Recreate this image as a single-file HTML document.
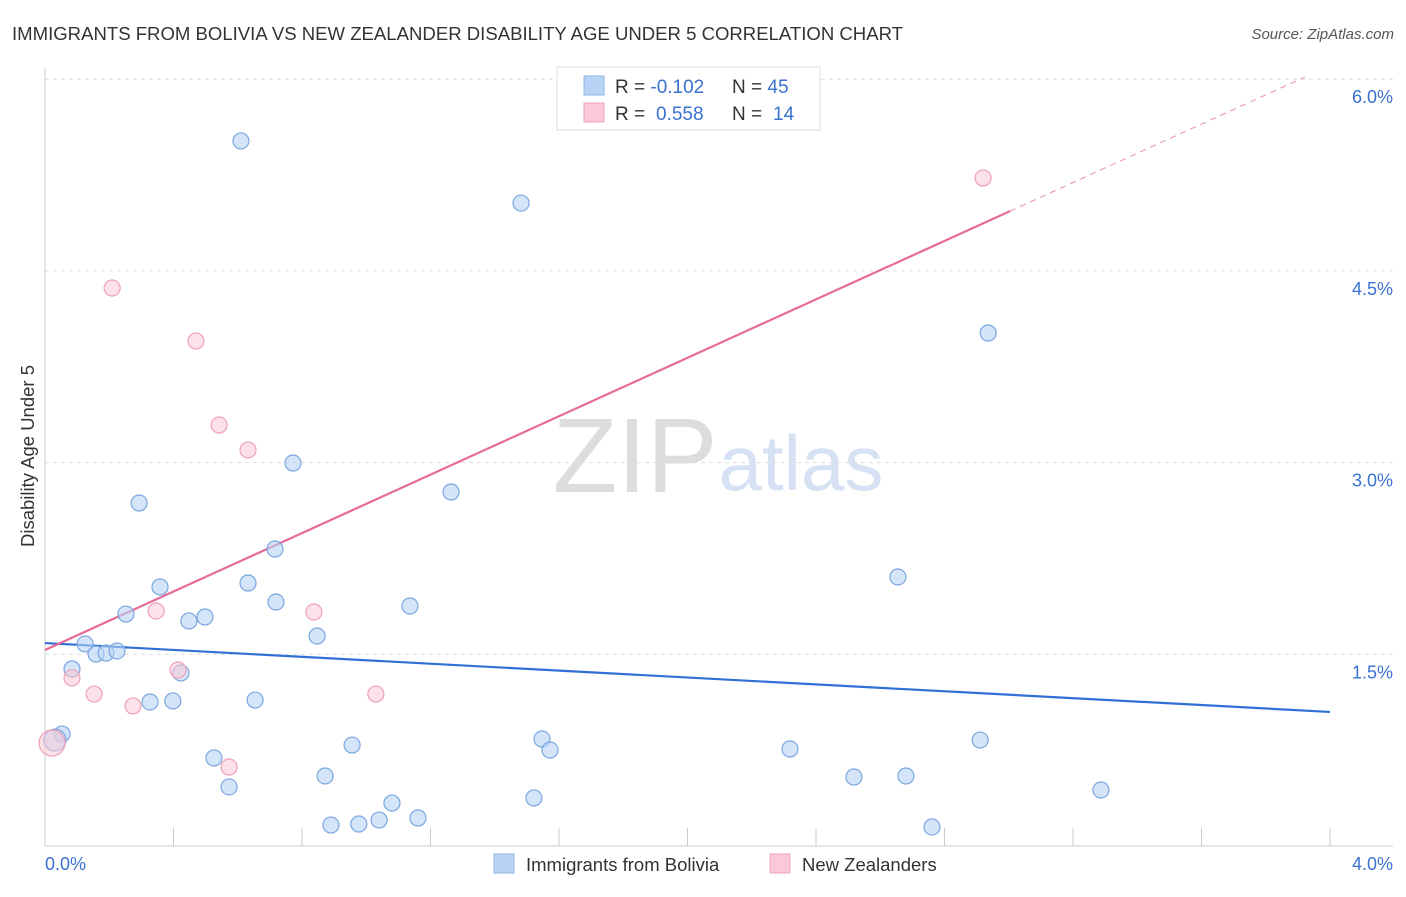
<!DOCTYPE html>
<html><head><meta charset="utf-8"><style>
body{margin:0;background:#fff;font-family:"Liberation Sans",sans-serif}
svg text{font-family:"Liberation Sans",sans-serif}
</style></head><body>
<svg id="chart" width="1406" height="892" xmlns="http://www.w3.org/2000/svg">
<text x="12" y="40" font-size="18" fill="#333" textLength="891" lengthAdjust="spacingAndGlyphs">IMMIGRANTS FROM BOLIVIA VS NEW ZEALANDER DISABILITY AGE UNDER 5 CORRELATION CHART</text>
<text x="1394" y="39" font-size="15" fill="#555" font-style="italic" text-anchor="end">Source: ZipAtlas.com</text>
<text x="635" y="492" font-size="106" fill="#ddd" font-family="Liberation Serif" text-anchor="middle">ZIP</text>
<text x="801" y="490" font-size="78" fill="#d6e2f3" text-anchor="middle">atlas</text>
<text transform="translate(34,456) rotate(-90)" font-size="18.5" fill="#333" text-anchor="middle">Disability Age Under 5</text>
<g id="grid"></g><g id="axes"></g><g id="lines"></g><g id="points"></g>
<g>
<rect x="557" y="67" width="263" height="63" fill="#fff" stroke="#ddd"/>
<rect x="584" y="76" width="20" height="19" fill="#b8d3f5" stroke="#8fb5e8"/>
<rect x="584" y="103" width="20" height="19" fill="#fac8d6" stroke="#f0a0b8"/>
<text x="615" y="93" font-size="19" fill="#333">R = <tspan fill="#3a72d0">-0.102</tspan><tspan x="732">N = </tspan><tspan fill="#3a72d0">45</tspan></text>
<text x="615" y="120" font-size="19" fill="#333">R = <tspan x="656" fill="#3a72d0">0.558</tspan><tspan x="732">N = </tspan><tspan x="773" fill="#3a72d0">14</tspan></text>
</g>
<g>
<rect x="494" y="854" width="20" height="19" fill="#b8d3f5" stroke="#8fb5e8"/>
<text x="526" y="871" font-size="18.5" fill="#333">Immigrants from Bolivia</text>
<rect x="770" y="854" width="20" height="19" fill="#fac8d6" stroke="#f0a0b8"/>
<text x="802" y="871" font-size="18.5" fill="#333">New Zealanders</text>
</g>
</svg>
<script>
const xTicks=[0,4];
const xTickLabels=["0.0%","4.0%"];
const yTicks=[1.5,3.0,4.5,6.0];
const yTickLabels=["1.5%","3.0%","4.5%","6.0%"];
const blueX=[0.610,1.482,2.936,0.772,1.264,0.293,0.716,2.655,0.358,0.632,0.719,1.136,0.252,0.448,0.498,0.847,0.125,0.159,0.190,0.224,0.084,0.423,0.327,0.398,0.654,0.053,0.031,0.956,1.547,1.572,2.319,2.911,0.526,0.573,0.872,2.518,2.680,1.080,1.522,3.287,1.161,1.040,0.890,0.977,2.761];
const blueY=[5.517,5.031,4.014,2.997,2.770,2.684,2.324,2.105,2.027,2.058,1.909,1.878,1.815,1.761,1.792,1.643,1.581,1.502,1.510,1.526,1.385,1.354,1.127,1.135,1.142,0.876,0.829,0.790,0.837,0.751,0.759,0.829,0.689,0.462,0.548,0.540,0.548,0.336,0.376,0.438,0.219,0.203,0.164,0.172,0.149];
const pinkX=[0.022,0.209,0.470,0.542,0.632,2.920,0.346,0.837,0.414,0.084,0.153,1.030,0.274,0.573];
const pinkY=[0.806,4.366,3.952,3.294,3.099,5.227,1.839,1.831,1.377,1.315,1.189,1.189,1.096,0.618];
const blueTrend=[1.588,1.049];
const pinkTrend=[1.534,1.143];
const NS="http://www.w3.org/2000/svg";
const sx=v=>45+v/4*1285, sy=v=>846-v/1.5*191.7;
function mk(tag,attrs,parent){const e=document.createElementNS(NS,tag);for(const k in attrs)e.setAttribute(k,attrs[k]);document.getElementById(parent).appendChild(e);return e;}
yTicks.forEach((t,i)=>{
 const g=mk('line',{x1:45,x2:1393,y1:sy(t),y2:sy(t),stroke:'#ddd','stroke-dasharray':'4,4'},'grid');
 
 
 const l=mk('text',{x:1393,y:sy(t)+24,'font-size':18,fill:'#3a72d0','text-anchor':'end'},'axes');l.textContent=yTickLabels[i];
 
 
});
mk('line',{x1:45,x2:45,y1:68,y2:846,stroke:'#ccc'},'axes');
mk('line',{x1:45,x2:1393,y1:846,y2:846,stroke:'#ccc'},'axes');
for(let i=0;i<=10;i++){mk('line',{x1:sx(i*0.4),x2:sx(i*0.4),y1:828,y2:846,stroke:'#ccc'},'axes');}
xTicks.forEach((t,i)=>{const l=mk('text',{x:t===0?45:1393,y:870,'font-size':18,fill:'#3a72d0','text-anchor':t===0?'start':'end'},'axes');l.textContent=xTickLabels[i];
 
 });
blueX.forEach((x,i)=>{const c=mk('circle',{cx:sx(x),cy:sy(blueY[i]),r:i===26?11:8,fill:'rgba(184,211,245,0.6)',stroke:'#7aa6e0','stroke-width':1.2},'points');
 
 });
pinkX.forEach((x,i)=>{const c=mk('circle',{cx:sx(x),cy:sy(pinkY[i]),r:i===0?13:8,fill:'rgba(250,200,214,0.55)',stroke:'#f0a0b8','stroke-width':1.2},'points');
 
 });
let b=mk('line',{x1:sx(0),y1:sy(blueTrend[0]),x2:sx(4),y2:sy(blueTrend[1]),stroke:'#2f6fd6','stroke-width':2.2},'lines');


const pe=3.004,pd=3.922;
let p=mk('line',{x1:sx(0),y1:sy(pinkTrend[0]),x2:sx(pe),y2:sy(pinkTrend[0]+pinkTrend[1]*pe),stroke:'#e66a95','stroke-width':2.2},'lines');


let pdl=mk('line',{x1:sx(pe),y1:sy(pinkTrend[0]+pinkTrend[1]*pe),x2:sx(pd),y2:sy(pinkTrend[0]+pinkTrend[1]*pd),stroke:'#eaa0b8','stroke-width':1.2,'stroke-dasharray':'6,5'},'lines');


</script>
</body></html>
